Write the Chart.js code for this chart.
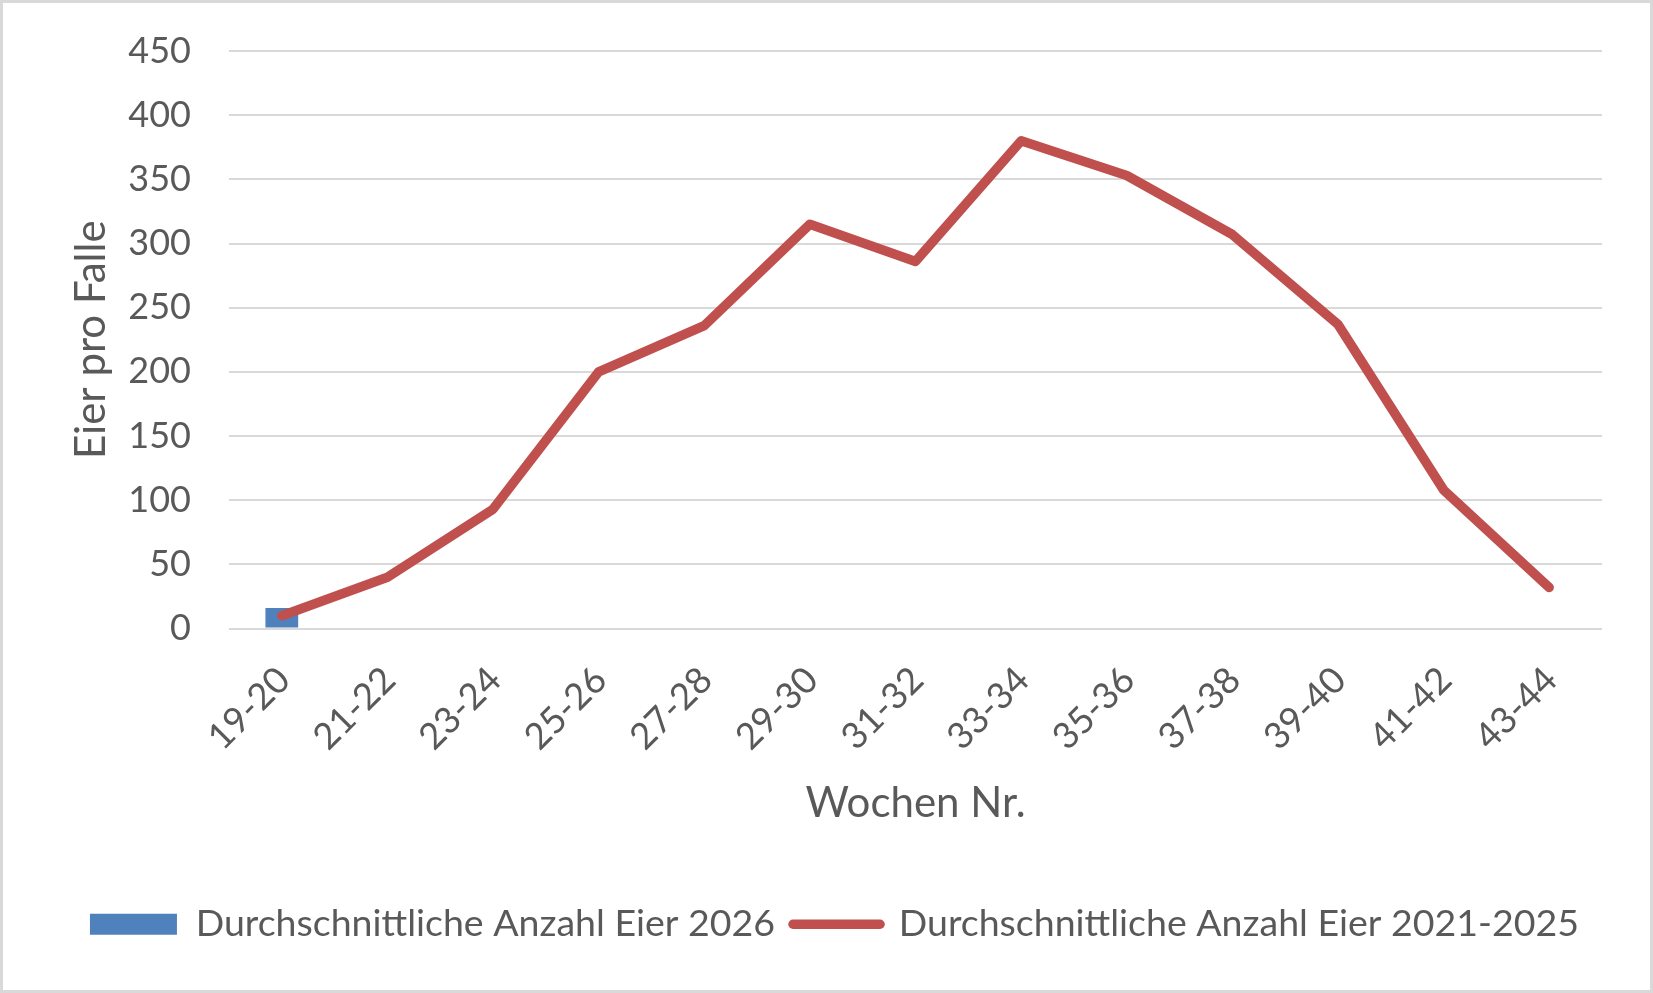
<!DOCTYPE html>
<html>
<head>
<meta charset="utf-8">
<script src="https://cdn.jsdelivr.net/npm/chart.js@4.4.1/dist/chart.umd.min.js"></script>
<style>
    html, body { margin: 0; padding: 0; background: #fff; }
    #wrap {
        width: 1653px;
        height: 993px;
        box-sizing: border-box;
        border: 3px solid #d9d9d9;
        background: #fff;
    }
    canvas { display: block; }
</style>
</head>
<body>
<div id="wrap"><canvas id="eggChart" width="1647" height="987"></canvas></div>
<script>
// Week pairs on the x axis
const weeks = ['19-20', '21-22', '23-24', '25-26', '27-28', '29-30', '31-32',
               '33-34', '35-36', '37-38', '39-40', '41-42', '43-44'];

// Average eggs per trap, 2026 (only the first period so far)
const eggs2026 = [16, null, null, null, null, null, null, null, null, null, null, null, null];

// Average eggs per trap, 2021-2025
const eggs2021to2025 = [10, 40, 93, 200, 236, 315, 286, 380, 353, 307, 237, 108, 32];

// Y axis range
const yMin = 0;
const yMax = 450;
const yStep = 50;

const labelNames = ['Durchschnittliche Anzahl Eier 2026', 'Durchschnittliche Anzahl Eier 2021-2025'];
const axisTitles = { x: 'Wochen Nr.', y: 'Eier pro Falle' };

const textColor = '#595959';
const gridColor = '#d9d9d9';
const blue = '#4f81bd';
const red = '#c0504d';
const lineWidth = 9.5;
const fontFamily = 'Lato, "Open Sans", sans-serif';

Chart.defaults.font.family = fontFamily;
Chart.defaults.color = textColor;

const ctx = document.getElementById('eggChart').getContext('2d');
new Chart(ctx, {
    type: 'bar',
    data: {
        labels: weeks,
        datasets: [
            {
                type: 'bar',
                label: labelNames[0],
                data: eggs2026,
                backgroundColor: blue,
                borderWidth: 0,
                barPercentage: 0.31,
                categoryPercentage: 1,
                order: 1
            },
            {
                type: 'line',
                label: labelNames[1],
                data: eggs2021to2025,
                borderColor: red,
                backgroundColor: red,
                borderWidth: lineWidth,
                borderCapStyle: 'round',
                borderJoinStyle: 'round',
                pointRadius: 0,
                tension: 0,
                fill: false,
                order: 0
            }
        ]
    },
    options: {
        responsive: false,
        animation: false,
        layout: {
            // left/right kept near-symmetric so the full-width legend stays centred
            padding: { left: 32, right: 16, top: 48, bottom: 37 }
        },
        plugins: {
            tooltip: { enabled: false },
            legend: {
                position: 'bottom',
                labels: {
                    usePointStyle: true,
                    pointStyleWidth: 87,
                    boxHeight: 21,
                    padding: 18,
                    color: textColor,
                    font: { size: 37.5 },
                    generateLabels: (chart) => chart.data.datasets.map((ds, i) => ({
                        text: ds.label,
                        datasetIndex: i,
                        fillStyle: ds.type === 'line' ? red : blue,
                        strokeStyle: ds.type === 'line' ? red : blue,
                        lineWidth: ds.type === 'line' ? lineWidth : 0,
                        lineCap: 'round',
                        pointStyle: ds.type === 'line' ? 'line' : 'rect',
                        fontColor: textColor,
                        hidden: false
                    }))
                }
            }
        },
        scales: {
            x: {
                offset: true,
                grid: { display: false, drawTicks: false },
                border: { display: false },
                ticks: {
                    autoSkip: false,
                    maxRotation: 45,
                    minRotation: 45,
                    padding: 30,
                    labelOffset: 2,
                    color: textColor,
                    font: { size: 36.5 }
                },
                title: {
                    display: true,
                    text: axisTitles.x,
                    color: textColor,
                    font: { size: 42 },
                    padding: { top: 0, bottom: 59 }
                },
                afterFit: (scale) => {
                    scale.height = 259;
                    scale.paddingRight = 48; // empty space right of the plot
                }
            },
            y: {
                min: yMin,
                max: yMax,
                grid: { color: gridColor, lineWidth: 2, drawTicks: false },
                border: { display: false },
                ticks: {
                    stepSize: yStep,
                    padding: 38,
                    color: textColor,
                    font: { size: 36 }
                },
                title: {
                    display: true,
                    text: axisTitles.y,
                    color: textColor,
                    font: { size: 42 },
                    padding: { top: 31, bottom: 0 }
                },
                afterFit: (scale) => {
                    scale.width = 194;
                    // tick padding should not push the plot top down
                    scale.paddingTop = 20;
                    scale.paddingBottom = 20;
                }
            }
        }
    }
});
</script>
</body>
</html>
